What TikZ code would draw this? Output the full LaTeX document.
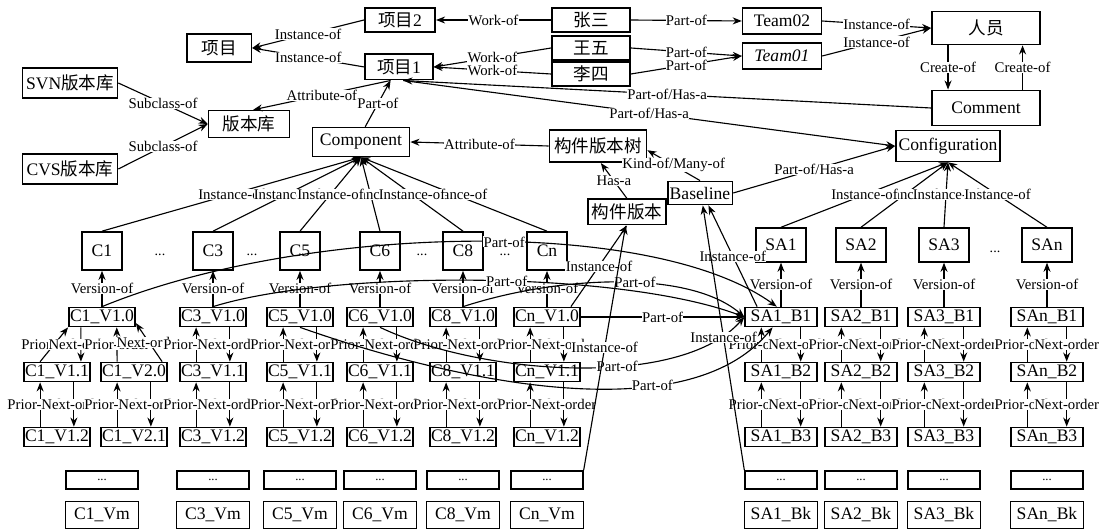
\documentclass[tikz,border=0pt]{standalone}
\usepackage{fontspec}
\setmainfont{Liberation Serif}
\newfontfamily\cjk{Noto Sans CJK SC}
\usetikzlibrary{arrows.meta}
\tikzset{
  box/.style={draw, line width=1.2pt, inner sep=0.6pt, font=\fontsize{12.5}{13}\selectfont},
  cbox/.style={box, minimum width=28.5pt, minimum height=27pt},
  sabox/.style={box, minimum width=35.5pt, minimum height=24pt},
  vbox/.style={box, minimum width=47pt, minimum height=13.5pt},
  bbox/.style={box, minimum width=51pt, minimum height=13.5pt},
  dotbox/.style={box, minimum width=51pt, minimum height=13pt, font=\fontsize{9}{9}\selectfont},
  endbox/.style={box, minimum width=52pt, minimum height=19pt},
  lab/.style={fill=white, inner sep=0.2pt, font=\fontsize{10.5}{11}\selectfont},
  gap/.style={font=\fontsize{10}{10}\selectfont},
}
\begin{document}
\begin{tikzpicture}[x=0.025cm, y=-0.025cm, line width=0.8pt, >={Stealth[length=6.5pt,width=5pt]}]
\useasboundingbox (0,0) rectangle (1104,530);

% upper part
\node[box, minimum width=50pt, minimum height=17pt] (xm2) at (400,20) {{\cjk 项目}2};
\node[box, minimum width=55.5pt, minimum height=17pt] (zs) at (591,20) {\cjk 张三};
\node[box, minimum width=56pt, minimum height=18.5pt] (t02) at (782,21) {Team02};
\node[box, minimum width=77pt, minimum height=23.5pt] (ry) at (986,28) {\cjk 人员};
\node[box, minimum width=46pt, minimum height=20pt] (xm) at (219,48) {\cjk 项目};
\node[box, minimum width=48pt, minimum height=18pt] (xm1) at (399,67) {{\cjk 项目}1};
\node[box, minimum width=55.5pt, minimum height=17.5pt] (ww) at (591,48) {\cjk 王五};
\node[box, minimum width=55.5pt, minimum height=17.5pt] (ls) at (591,74) {\cjk 李四};
\node[box, minimum width=56pt, minimum height=18.5pt] (t01) at (782,56) {\itshape Team01};
\node[box, minimum width=67.5pt, minimum height=21.5pt] (svn) at (70,83) {SVN{\cjk 版本库}};
\node[box, minimum width=77pt, minimum height=25pt] (cm) at (986,108) {Comment};
\node[box, minimum width=57.5pt, minimum height=19pt] (bbk) at (249,124) {\cjk 版本库};
\node[box, minimum width=69pt, minimum height=20.5pt] (comp) at (361,142) {Component};
\node[box, minimum width=69pt, minimum height=23pt] (tree) at (598,146) {\cjk 构件版本树};
\node[box, minimum width=74pt, minimum height=22pt] (conf) at (948,146) {Configuration};
\node[box, minimum width=67.5pt, minimum height=21.5pt] (cvs) at (70,169) {CVS{\cjk 版本库}};
\node[box, minimum width=46pt, minimum height=16.5pt] (base) at (700,193) {Baseline};
\node[box, minimum width=55pt, minimum height=18pt] (cv) at (627,212) {\cjk 构件版本};

% components
\node[cbox] (c1) at (102,251) {C1};
\node[gap] (g1) at (160,255) {...};
\node[cbox] (c3) at (213,251) {C3};
\node[gap] (g2) at (252,255) {...};
\node[cbox] (c5) at (300,251) {C5};
\node[cbox] (c6) at (380,251) {C6};
\node[gap] (g3) at (422,255) {...};
\node[cbox] (c8) at (463,251) {C8};
\node[gap] (g4) at (505,255) {...};
\node[cbox] (cn) at (547,251) {Cn};

\node[sabox] (sa1) at (781,245) {SA1};
\node[sabox] (sa2) at (861,245) {SA2};
\node[sabox] (sa3) at (944,245) {SA3};
\node[gap] (g5) at (995,252) {...};
\node[sabox] (san) at (1047,245) {SAn};

% component versions
\node[vbox] (c1v10) at (102,317) {C1\_V1.0};
\node[vbox] (c3v10) at (213,317) {C3\_V1.0};
\node[vbox] (c5v10) at (300,317) {C5\_V1.0};
\node[vbox] (c6v10) at (380,317) {C6\_V1.0};
\node[vbox] (c8v10) at (463,317) {C8\_V1.0};
\node[vbox] (cnv10) at (547,317) {Cn\_V1.0};

\node[vbox] (c1v11) at (57,372) {C1\_V1.1};
\node[vbox] (c1v20) at (134,372) {C1\_V2.0};
\node[vbox] (c3v11) at (213,372) {C3\_V1.1};
\node[vbox] (c5v11) at (300,372) {C5\_V1.1};
\node[vbox] (c6v11) at (380,372) {C6\_V1.1};
\node[vbox] (c8v11) at (463,372) {C8\_V1.1};
\node[vbox] (cnv11) at (547,372) {Cn\_V1.1};

\node[vbox] (c1v12) at (57,437) {C1\_V1.2};
\node[vbox] (c1v21) at (134,437) {C1\_V2.1};
\node[vbox] (c3v12) at (213,437) {C3\_V1.2};
\node[vbox] (c5v12) at (300,437) {C5\_V1.2};
\node[vbox] (c6v12) at (380,437) {C6\_V1.2};
\node[vbox] (c8v12) at (463,437) {C8\_V1.2};
\node[vbox] (cnv12) at (547,437) {Cn\_V1.2};

\node[dotbox] (c1d) at (102,480) {...};
\node[dotbox] (c3d) at (213,480) {...};
\node[dotbox] (c5d) at (300,480) {...};
\node[dotbox] (c6d) at (380,480) {...};
\node[dotbox] (c8d) at (463,480) {...};
\node[dotbox] (cnd) at (547,480) {...};

\node[endbox] (c1vm) at (102,515) {C1\_Vm};
\node[endbox] (c3vm) at (213,515) {C3\_Vm};
\node[endbox] (c5vm) at (300,515) {C5\_Vm};
\node[endbox] (c6vm) at (380,515) {C6\_Vm};
\node[endbox] (c8vm) at (463,515) {C8\_Vm};
\node[endbox] (cnvm) at (547,515) {Cn\_Vm};

% baselines
\node[bbox] (s1b1) at (781,317) {SA1\_B1};
\node[bbox] (s2b1) at (861,317) {SA2\_B1};
\node[bbox] (s3b1) at (944,317) {SA3\_B1};
\node[bbox] (snb1) at (1047,317) {SAn\_B1};
\node[bbox] (s1b2) at (781,372) {SA1\_B2};
\node[bbox] (s2b2) at (861,372) {SA2\_B2};
\node[bbox] (s3b2) at (944,372) {SA3\_B2};
\node[bbox] (snb2) at (1047,372) {SAn\_B2};
\node[bbox] (s1b3) at (781,437) {SA1\_B3};
\node[bbox] (s2b3) at (861,437) {SA2\_B3};
\node[bbox] (s3b3) at (944,437) {SA3\_B3};
\node[bbox] (snb3) at (1047,437) {SAn\_B3};
\node[dotbox] (s1d) at (781,480) {...};
\node[dotbox] (s2d) at (861,480) {...};
\node[dotbox] (s3d) at (944,480) {...};
\node[dotbox] (snd) at (1047,480) {...};
\node[endbox] (s1bk) at (781,515) {SA1\_Bk};
\node[endbox] (s2bk) at (861,515) {SA2\_Bk};
\node[endbox] (s3bk) at (944,515) {SA3\_Bk};
\node[endbox] (snbk) at (1047,515) {SAn\_Bk};

% upper relations
\draw[->] (xm2.west) -- (xm.east) node[lab, midway] {Instance-of};
\draw[->] (xm1.west) -- (xm.east) node[lab, midway] {Instance-of};
\draw[->] (zs.west) -- (xm2.east) node[lab, midway] {Work-of};
\draw[->] (ww.west) -- (xm1.east) node[lab, midway] {Work-of};
\draw[->] (ls.west) -- (xm1.east) node[lab, midway] {Work-of};
\draw[->] (zs.east) -- (t02.west) node[lab, midway] {Part-of};
\draw[->] (ww.east) -- (t01.west) node[lab, midway] {Part-of};
\draw[->] (ls.east) -- (t01.west) node[lab, midway] {Part-of};
\draw[->] (t02.east) -- (ry.west) node[lab, midway] {Instance-of};
\draw[->] (t01.east) -- (ry.west) node[lab, midway] {Instance-of};
\draw[->] ([xshift=-27pt]ry.south) -- ([xshift=-27pt]cm.north) node[lab, midway] {Create-of};
\draw[->] ([xshift=26pt]cm.north) -- ([xshift=26pt]ry.south) node[lab, midway] {Create-of};
\draw[->] (cm.west) -- ([xshift=3pt]xm1.south) node[lab, midway] {Part-of/Has-a};
\draw[->] ([xshift=3pt]xm1.south) -- (conf.west) node[lab, midway] {Part-of/Has-a};
\draw[->] ([xshift=3pt]comp.north) -- ([xshift=-6pt]xm1.south) node[lab, midway] {Part-of};
\draw[->] ([xshift=-6pt]xm1.south) -- ([xshift=3pt]bbk.north) node[lab, midway] {Attribute-of};
\draw[->] (svn.east) -- (bbk.west) node[lab, midway] {Subclass-of};
\draw[->] (cvs.east) -- (bbk.west) node[lab, midway] {Subclass-of};
\draw[->] (tree.west) -- (comp.east) node[lab, midway] {Attribute-of};
\draw[->] (base.north) -- ([yshift=-3pt]tree.east) node[lab, midway] {Kind-of/Many-of};
\draw[->] (cv.north) -- ([xshift=2pt]tree.south) node[lab, midway] {Has-a};
\draw[->] (base.east) -- (conf.west) node[lab, midway] {Part-of/Has-a};

% instances of component and configuration
\draw[->] (c1.north) -- (comp.south) node[lab, midway] {Instance-of};
\draw[->] (c3.north) -- (comp.south) node[lab, midway] {Instance-of};
\draw[->] (c6.north) -- (comp.south) node[lab, midway] {Instance-of};
\draw[->] (c5.north) -- (comp.south) node[lab, midway] {Instance-of};
\draw[->] (cn.north) -- (comp.south) node[lab, midway] {Instance-of};
\draw[->] (c8.north) -- (comp.south) node[lab, midway] {Instance-of};
\draw[->] (sa2.north) -- (conf.south) node[lab, midway] {Instance-of};
\draw[->] (sa1.north) -- (conf.south) node[lab, midway] {Instance-of};
\draw[->] (sa3.north) -- (conf.south) node[lab, midway] {Instance-of};
\draw[->] (san.north) -- (conf.south) node[lab, midway] {Instance-of};

% version-of
\draw[->] (c1v10.north) -- (c1.south) node[lab, midway] {Version-of};
\draw[->] (c3v10.north) -- (c3.south) node[lab, midway] {Version-of};
\draw[->] (c5v10.north) -- (c5.south) node[lab, midway] {Version-of};
\draw[->] (c6v10.north) -- (c6.south) node[lab, midway] {Version-of};
\draw[->] (c8v10.north) -- (c8.south) node[lab, midway] {Version-of};
\draw[->] (cnv10.north) -- (cn.south) node[lab, midway] {Version-of};
\draw[->] (s1b1.north) -- (sa1.south) node[lab, midway] {Version-of};
\draw[->] (s2b1.north) -- (sa2.south) node[lab, midway] {Version-of};
\draw[->] (s3b1.north) -- (sa3.south) node[lab, midway] {Version-of};
\draw[->] (snb1.north) -- (san.south) node[lab, midway] {Version-of};

% prior / next order, first row
\draw[->] ([xshift=-12pt]c1v11.north) -- (c1v10.south west) node[lab, midway] {Prior-order};
\draw[->] ([xshift=-15pt]c1v10.south) -- ([xshift=17pt]c1v11.north) node[lab, midway] {Next-order};
\draw[->] ([xshift=-12pt]c1v20.north) -- ([xshift=10.5pt]c1v10.south) node[lab, midway] {Prior-order};
\draw[->] ([xshift=20pt]c1v20.north) -- ([yshift=3pt]c1v10.south east) node[lab, midway] {Next-order};
\draw[->] ([xshift=-12pt]c3v11.north) -- ([xshift=-12pt]c3v10.south) node[lab, midway] {Prior-order};
\draw[->] ([xshift=12pt]c3v10.south) -- ([xshift=12pt]c3v11.north) node[lab, midway] {Next-order};
\draw[->] ([xshift=-12pt]c5v11.north) -- ([xshift=-12pt]c5v10.south) node[lab, midway] {Prior-order};
\draw[->] ([xshift=12pt]c5v10.south) -- ([xshift=12pt]c5v11.north) node[lab, midway] {Next-order};
\draw[->] ([xshift=-12pt]c6v11.north) -- ([xshift=-12pt]c6v10.south) node[lab, midway] {Prior-order};
\draw[->] ([xshift=12pt]c6v10.south) -- ([xshift=12pt]c6v11.north) node[lab, midway] {Next-order};
\draw[->] ([xshift=-12pt]c8v11.north) -- ([xshift=-12pt]c8v10.south) node[lab, midway] {Prior-order};
\draw[->] ([xshift=12pt]c8v10.south) -- ([xshift=12pt]c8v11.north) node[lab, midway] {Next-order};
\draw[->] ([xshift=-12pt]cnv11.north) -- ([xshift=-12pt]cnv10.south) node[lab, midway] {Prior-order};
\draw[->] ([xshift=12pt]cnv10.south) -- ([xshift=12pt]cnv11.north) node[lab, midway] {Next-order};
\draw[->] ([xshift=-14pt]s1b2.north) -- ([xshift=-14pt]s1b1.south) node[lab, midway] {Prior-order};
\draw[->] ([xshift=14pt]s1b1.south) -- ([xshift=14pt]s1b2.north) node[lab, midway] {Next-order};
\draw[->] ([xshift=-14pt]s2b2.north) -- ([xshift=-14pt]s2b1.south) node[lab, midway] {Prior-order};
\draw[->] ([xshift=14pt]s2b1.south) -- ([xshift=14pt]s2b2.north) node[lab, midway] {Next-order};
\draw[->] ([xshift=-14pt]s3b2.north) -- ([xshift=-14pt]s3b1.south) node[lab, midway] {Prior-order};
\draw[->] ([xshift=14pt]s3b1.south) -- ([xshift=14pt]s3b2.north) node[lab, midway] {Next-order};
\draw[->] ([xshift=-14pt]snb2.north) -- ([xshift=-14pt]snb1.south) node[lab, midway] {Prior-order};
\draw[->] ([xshift=14pt]snb1.south) -- ([xshift=14pt]snb2.north) node[lab, midway] {Next-order};

% prior / next order, second row
\draw[->] ([xshift=-12pt]c1v12.north) -- ([xshift=-12pt]c1v11.south) node[lab, midway] {Prior-order};
\draw[->] ([xshift=12pt]c1v11.south) -- ([xshift=12pt]c1v12.north) node[lab, midway] {Next-order};
\draw[->] ([xshift=-12pt]c1v21.north) -- ([xshift=-12pt]c1v20.south) node[lab, midway] {Prior-order};
\draw[->] ([xshift=12pt]c1v20.south) -- ([xshift=12pt]c1v21.north) node[lab, midway] {Next-order};
\draw[->] ([xshift=-12pt]c3v12.north) -- ([xshift=-12pt]c3v11.south) node[lab, midway] {Prior-order};
\draw[->] ([xshift=12pt]c3v11.south) -- ([xshift=12pt]c3v12.north) node[lab, midway] {Next-order};
\draw[->] ([xshift=-12pt]c5v12.north) -- ([xshift=-12pt]c5v11.south) node[lab, midway] {Prior-order};
\draw[->] ([xshift=12pt]c5v11.south) -- ([xshift=12pt]c5v12.north) node[lab, midway] {Next-order};
\draw[->] ([xshift=-12pt]c6v12.north) -- ([xshift=-12pt]c6v11.south) node[lab, midway] {Prior-order};
\draw[->] ([xshift=12pt]c6v11.south) -- ([xshift=12pt]c6v12.north) node[lab, midway] {Next-order};
\draw[->] ([xshift=-12pt]c8v12.north) -- ([xshift=-12pt]c8v11.south) node[lab, midway] {Prior-order};
\draw[->] ([xshift=12pt]c8v11.south) -- ([xshift=12pt]c8v12.north) node[lab, midway] {Next-order};
\draw[->] ([xshift=-12pt]cnv12.north) -- ([xshift=-12pt]cnv11.south) node[lab, midway] {Prior-order};
\draw[->] ([xshift=12pt]cnv11.south) -- ([xshift=12pt]cnv12.north) node[lab, midway] {Next-order};
\draw[->] ([xshift=-14pt]s1b3.north) -- ([xshift=-14pt]s1b2.south) node[lab, midway] {Prior-order};
\draw[->] ([xshift=14pt]s1b2.south) -- ([xshift=14pt]s1b3.north) node[lab, midway] {Next-order};
\draw[->] ([xshift=-14pt]s2b3.north) -- ([xshift=-14pt]s2b2.south) node[lab, midway] {Prior-order};
\draw[->] ([xshift=14pt]s2b2.south) -- ([xshift=14pt]s2b3.north) node[lab, midway] {Next-order};
\draw[->] ([xshift=-14pt]s3b3.north) -- ([xshift=-14pt]s3b2.south) node[lab, midway] {Prior-order};
\draw[->] ([xshift=14pt]s3b2.south) -- ([xshift=14pt]s3b3.north) node[lab, midway] {Next-order};
\draw[->] ([xshift=-14pt]snb3.north) -- ([xshift=-14pt]snb2.south) node[lab, midway] {Prior-order};
\draw[->] ([xshift=14pt]snb2.south) -- ([xshift=14pt]snb3.north) node[lab, midway] {Next-order};

% versions that make up the first baseline
\draw[->] (c1v10.north) .. controls (300,225) and (650,215) .. ([xshift=-3pt]s1b1.north) node[lab, pos=0.55] {Part-of};
\draw[->] (c3v10.north) .. controls (330,270) and (620,270) .. (s1b1.west) node[lab, pos=0.55] {Part-of};
\draw[->] (c8v10.north) .. controls (560,275) and (690,270) .. (s1b1.west) node[lab, pos=0.55] {Part-of};
\draw[->] (cnv10.east) -- (s1b1.west) node[lab, midway] {Part-of};
\draw[->] (c6v10.south) .. controls (480,375) and (680,390) .. (s1b1.west) node[lab, pos=0.6] {Part-of};
\draw[->] (c5v10.south) .. controls (420,370) and (680,440) .. ([xshift=-6pt]s1b1.south) node[lab, pos=0.7] {Part-of};

% instances of component version and baseline
\draw[->] ([xshift=17pt]cnv10.north) -- (cv.south) node[lab, midway] {Instance-of};
\draw[->] (cnd.north east) -- ([xshift=-1pt]cv.south) node[lab, midway] {Instance-of};
\draw[->] ([xshift=-17pt]s1b1.north) -- ([xshift=6pt]base.south) node[lab, midway] {Instance-of};
\draw[->] (s1d.north west) -- ([xshift=2pt]base.south) node[lab, midway] {Instance-of};
\end{tikzpicture}
\end{document}
